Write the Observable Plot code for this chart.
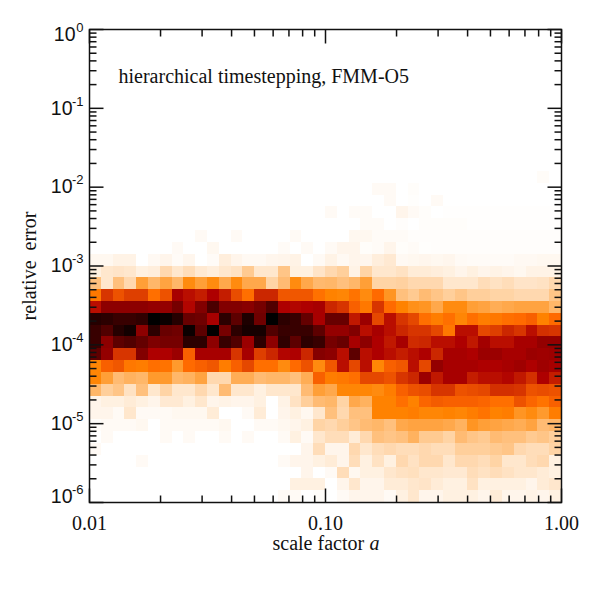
<!DOCTYPE html>
<html><head><meta charset="utf-8">
<script src="https://cdn.jsdelivr.net/npm/d3@7"></script>
<script src="https://cdn.jsdelivr.net/npm/@observablehq/plot@0.6"></script>
<style>html,body{margin:0;padding:0;background:#fff}</style>
</head><body><div id="chart"></div>
<script>
const z10 = [0,0,0,0,0,0,0,0,0,0];
const row12 = [...z10, ...z10, ...z10, 0,0,0,0,0,0,0,0,.7,0];
const row13 = [...z10, ...z10, 0,0,0,0,1,1,0,.5,0,0, ...z10];
const row14 = [...z10, ...z10, 0,0,0,0,0,1,0,.3,0,1, ...z10];
const row15 = [...z10, ...z10, 1,0,.8,.8,0,0,2,1,.5,0, .2,.2,.2,.2,.2,.2,.2,.2,.2,.2];
const row16 = [...z10, ...z10, 0,0,0,.8,.8,0,.4,0,.5,.5, .5,.5,.2,.2,.2,.2,.2,.2,.2,.2];
const row17 = [0,0,0,0,0,0,0,0,0,1, 0,0,1,0,0,0,0,1,0,0, 0,0,1.5,1.5,.8,.8,.8,.4,.4,.4, .4,.4,.4,.4,.4,.4,.4,.4,.4,.4];
const row18 = [0,0,0,0,0,0,0,1,0,0, 1.5,0,0,0,0,0,.8,0,1,0, 1,2,2,.5,.8,2,.5,.8,.3,.4, .4,.4,.4,.4,.4,.4,.4,.4,.4,.4];
const row19 = [1.5,1.5,2.5,2.5,0,1.2,2,.8,1.8,0, .8,3.5,2,1.2,1.2,1.8,2,2.5,0,1, 2.5,1.2,2,1.8,3.5,4.5,1.2,1.5,1.8,1.5, 1.8,1,.8,.8,.8,.8,1.2,1.2,1.5,1.5];
const row20 = [3,5,5.5,5,3,3.5,8,5,7,4.5, 3.5,5,6,11,5,5,12,3,3,5.5, 8,10,2.5,9,5,5,6,4,4,3.5, 3,2,3,2,2.5,2,1.5,2.5,2.5,2.5];
const row21 = [13,5,13,8,20,15,19,15,24,20, 24,18,24,18,18,9,14,24,18,14.5, 15,13,15,20,9,9,9.5,8,8,8, 5,5,5,7,6,7,5.5,5.5,6,8];
const row22 = [28,42,36,40,40,30,36,55,50,47, 53,47,37,30,45,45,35,35,35,29.5, 26,25,29,24,31,22,13,11,14,12, 10,12,10,10,9,9,8,8,8,12];
const row23 = [50,62,62,62,62,60,60,68,52,65, 80,65,65,63,68,78,53,52,53,55, 45,42,33,28,42,31,26,23,22,18, 24,24,20,19,17,18,19,19,19,15];
const row24 = [90,88,85,85,87,100,97,90,72,70, 55,88,75,92,70,100,88,85,73,55, 72,72,48,58,38,50,42,38,30,27, 30,25,30,27,28,30,31,33,26,31];
const row25 = [85,78,90,95,62,88,72,70,97,75, 100,68,88,94,94,78,85,85,85,75, 60,60,65,50,55,50,45,42,42,38, 28,50,50,38,40,45,42,50,43,42];
const row26 = [85,62,75,78,73,66,68,68,88,88, 62,85,78,58,88,62,87,75,88,85, 68,72,55,62,53,48,55,44,45,50, 50,53,48,56,50,50,55,55,60,60];
const row27 = [75,60,42,42,65,53,53,58,33,55, 55,55,42,55,40,45,52,53,45,64, 62,50,75,50,53,50,47,50,53,45, 55,55,53,58,58,55,55,58,57,58];
const row28 = [25,33,35,28,27,30,29,21,31,33, 35,27,33,38,30,30,24,31,36,24, 35,50,38,50,25,33,35,50,38,60, 55,55,55,53,53,55,57,53,57,55];
const row29 = [25,20,14,16,15,21,21,15,16,19, 8,8,17,17,14,15,15,13,17,33, 27,28,30,38,38,36,42,45,58,48, 55,55,47,50,50,52,48,43,53,47];
const row30 = [15,10,12,6,13,5,9,5,5,8, 5,14,5,5,3,5,5,5,14,20, 18,25,25,25,24,27,33,36,37,42, 42,36,37,38,43,43,42,36,37,36];
const row31 = [2,3,3,4,3,2,4.5,4.5,3,5, 2,2.5,2,2,3,0,2.5,6,10,14, 15,9,18,16,26,26,30,26,32,34, 33,33,33,32,30,30,36,32,29,33];
const row32 = [2,2,1,5,1,1,1,1.5,1.5,1.5, 4,0,0,1,4,0,2,3,1.5,5, 13,8,13,13,26,26,26,27,25,25, 26,25,27,29,26,27,22,24,21,27];
const row33 = [.5,1,1,1,1.5,0,1,1,1,1, 1,1.5,0,0,1,1,1.5,2,3,9, 8,10,12,14,15,13,18,19,19,19, 18,16,22,20,19,18,17,19,14,15];
const row34 = [0,1,0,0,0,0,1,0,1,0, 0,1,0,1,0,0,1,3,1,5, 7,7,4,8,13,12,13,16,11,11, 9,14,12,11,14,13,13,11,12,10];
const row35 = [1,0,0,0,0,0,0,0,0,0, 0,0,0,0,0,0,0,0,2,7, 2,2,8,5,7,8,7,7,8,7, 7,10,10,10,11,12,8,7,7,9];
const row36 = [0,0,0,0,1,0,0,0,0,0, 0,0,0,0,0,0,1,2,2,3, 4,2,7,3,6,3,8,6,8,8, 5,8,8,7,9,5,5,7,8,3];
const row37 = [...z10, 0,0,0,0,0,0,0,0,2,0, 1,7,1.5,3,3,5,6,6.5,5,5, 4.5,4.5,7,6,7,6,5,5,4,3];
const row38 = [...z10, 0,0,0,0,0,0,0,3,3,3, 0,2,5,2,2,4,4,5,5.5,4, 3,3,6,3,3,3,3,2,4,5];
const row39 = [...z10, 0,0,0,0,0,0,1,1,0,.5, 0,1,2,2,2,1,3,5,2,2, 3,3,3,2,4,2,2,2.5,2,3];

const rows = [row12,row13,row14,row15,row16,row17,row18,row19,row20,row21,row22,row23,row24,row25,
  row26,row27,row28,row29,row30,row31,row32,row33,row34,row35,row36,row37,row38,row39];
const firstRow = 12, columnsPerDecade = 20, rowsPerDecade = 20 / 3;

const cells = rows.flatMap((row, r) => row.map((v, c) => ({
  a1: 10 ** (-2 + c / columnsPerDecade), a2: 10 ** (-2 + (c + 1) / columnsPerDecade),
  e1: 10 ** (-(r + firstRow) / rowsPerDecade), e2: 10 ** (-(r + firstRow + 1) / rowsPerDecade), v
}))).filter(d => d.v > 0);

const decadesY = [-6,-5,-4,-3,-2,-1,0];
const majorY = decadesY.map(e => 10 ** e);
const minorY = decadesY.slice(0,-1).flatMap(e => [2,3,4,5,6,7,8,9].map(m => m * 10 ** e));
const majorX = [0.01,0.1,1];
const minorX = [0.01,0.1].flatMap(d => [2,3,4,5,6,7,8,9].map(m => m * d));

const serif = "'Liberation Serif','Times New Roman',serif";
const sans = "'Liberation Sans',Helvetica,Arial,sans-serif";
const tickShape = {draw(ctx, l){ ctx.moveTo(0,0); ctx.lineTo(0,-l); }};

const tickStyle = {shape:tickShape, anchor:"start", stroke:"#111", strokeWidth:1.5, strokeLinecap:"butt"};
const ticksY = (values, length) => [
  Plot.vector(values, {...tickStyle, x:()=>0.01, y:d=>d, rotate:90, length}),
  Plot.vector(values, {...tickStyle, x:()=>1, y:d=>d, rotate:-90, length})
];
const ticksX = (values, length) => [
  Plot.vector(values, {...tickStyle, x:d=>d, y:()=>1e-6, rotate:0, length}),
  Plot.vector(values, {...tickStyle, x:d=>d, y:()=>1, rotate:180, length})
];

const decadeLabels = (exps, dx10, dy) => [
  Plot.text(exps, {x:()=>0.01, y:e=>10**e, text:e=>"10", textAnchor:"end", dx:dx10, dy, fontFamily:sans, fontSize:19.5, fill:"#111"}),
  Plot.text(exps, {x:()=>0.01, y:e=>10**e, text:e=>String(e), textAnchor:"end", dx:-6, dy:dy-7, fontFamily:sans, fontSize:13, fill:"#111"})
];

const chart = Plot.plot({
  width:591, height:591,
  marginLeft:89, marginRight:30, marginTop:29, marginBottom:89,
  style:{background:"#fff", overflow:"visible"},
  x:{type:"log", domain:[0.01,1], axis:null},
  y:{type:"log", domain:[1e-6,1], axis:null},
  color:{type:"linear", domain:[0,25.5,31,53,100],
    range:["#ffffff","#ff8400","#ff6a00","#ae0000","#000000"], interpolate:"rgb"},
  marks:[
    Plot.rect(cells, {x1:"a1", x2:"a2", y1:"e1", y2:"e2", fill:"v", shapeRendering:"crispEdges"}),
    Plot.frame({stroke:"#111", strokeWidth:1.5}),
    ...ticksY(majorY,14), ...ticksY(minorY,7),
    ...ticksX(majorX,14), ...ticksX(minorX,7),
    Plot.axisX(majorX, {anchor:"bottom", tickSize:0, tickPadding:13, tickFormat:d=>d.toFixed(2), label:null,
      fontFamily:serif, fontSize:20, fill:"#111"}),
    ...decadeLabels([-5,-4,-3,-2,-1], -17, 0),
    ...decadeLabels([0], -14, 5),
    ...decadeLabels([-6], -17, -6),
    Plot.text(["scale factor"], {frameAnchor:"bottom-left", dx:183, dy:47, textAnchor:"start", text:d=>d,
      fontFamily:serif, fontSize:20, fill:"#111", lineAnchor:"bottom"}),
    Plot.text(["a"], {frameAnchor:"bottom-left", dx:280, dy:47, textAnchor:"start", text:d=>d,
      fontFamily:serif, fontStyle:"italic", fontSize:20, fill:"#111", lineAnchor:"bottom"}),
    Plot.text(["relative  error"], {frameAnchor:"left", textAnchor:"middle", dx:-60, rotate:-90, text:d=>d, fontFamily:serif, fontSize:20, fill:"#111"}),
    Plot.text(["hierarchical timestepping, FMM-O5"], {frameAnchor:"top-left", dx:29, dy:39, textAnchor:"start", text:d=>d,
      fontFamily:serif, fontSize:20, fill:"#111"})
  ]
});
document.getElementById("chart").append(chart);
</script></body></html>
